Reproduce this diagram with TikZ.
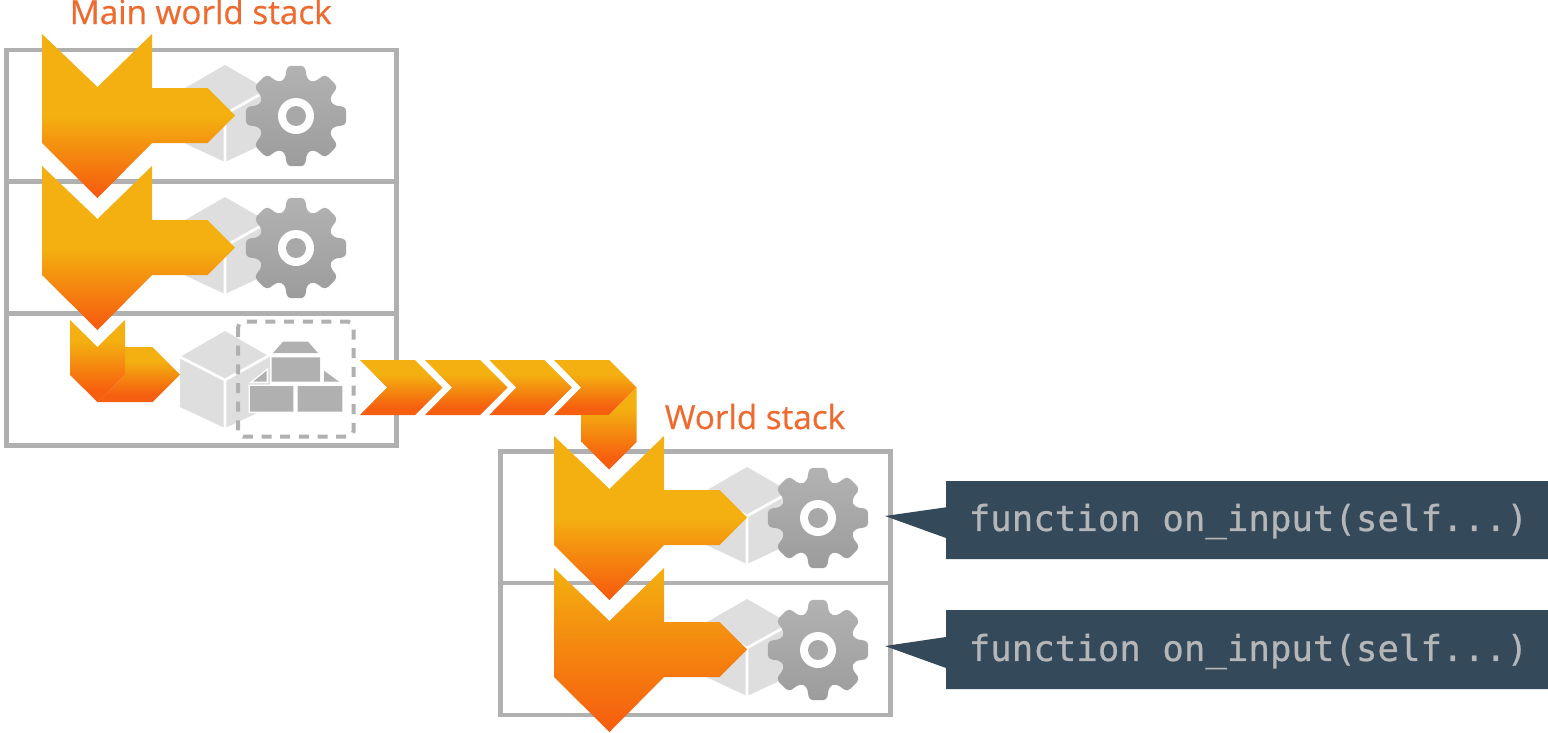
\documentclass[tikz,border=0pt]{standalone}
\usepackage{fontspec}
\setmainfont{Open Sans}
\newfontfamily\headfont[FakeBold=0.5]{Open Sans}
\newfontfamily\codefont[FakeBold=0.6]{DejaVu Sans Mono}
\definecolor{ay}{HTML}{F3B010}
\definecolor{ao}{HTML}{F65F0F}
\definecolor{boxgray}{HTML}{B0B0B0}
\definecolor{cubegray}{HTML}{DEDEDE}
\definecolor{navy}{HTML}{34495A}
\definecolor{labelor}{HTML}{EE6A2F}
\definecolor{codegray}{HTML}{B4B6B8}
\definecolor{geartop}{HTML}{B2B2B2}
\definecolor{gearbot}{HTML}{9C9C9C}
\definecolor{gearmid}{HTML}{A8A8A8}
\pgfdeclareverticalshading{bigarrow}{100bp}{color(0bp)=(ao);color(27bp)=(ao);color(50bp)=(ay);color(100bp)=(ay)}
\pgfdeclareverticalshading{fullarrow}{100bp}{color(0bp)=(ao);color(27bp)=(ao);color(75bp)=(ay);color(100bp)=(ay)}
\pgfdeclareverticalshading{chev}{100bp}{color(0bp)=(ao);color(32bp)=(ao);color(62bp)=(ay);color(100bp)=(ay)}
\pgfdeclareverticalshading{geargrad}{100bp}{color(0bp)=(gearbot);color(25bp)=(gearbot);color(75bp)=(geartop);color(100bp)=(geartop)}
\tikzset{
  x=0.75pt,y=-0.75pt,
  boxline/.style={draw=boxgray,line width=3.7pt,fill=none},
  heading/.style={text=labelor,font=\headfont\fontsize{24.9}{28}\selectfont,inner sep=0pt,anchor=base west},
  codetext/.style={text=codegray,font=\codefont\fontsize{26.8}{30}\selectfont,inner sep=0pt,anchor=west},
  callout/.style={fill=navy},
  brick/.style={fill=boxgray},
  bigarr/.pic={\shade[shading=#1,draw=none]
    (42,34)--(97.5,87)--(152,34)--(152,88)--(207.5,88)--(235,115.5)--(207.5,143)--(152,143)--(97.5,198)--(42,143)--cycle;},
  pics/bigarr/.default=bigarrow,
  chevron/.pic={\shade[shading=chev]
    (0,0)--(55,0)--(82.5,27.5)--(55,55)--(0,55)--(27,27.5)--cycle;},
  cube/.pic={
    \fill[cubegray] (225,331)--(270,357)--(270,407)--(225,428)--(180,407)--(180,357)--cycle;
    \draw[white,line width=2pt,line cap=butt] (180,357)--(225,380)--(270,355) (225,380)--(225,430);},
  gear/.pic={
    \shade[shading=geargrad] \gearpath;
    \fill[white] (0,0) circle (18);
    \fill[gearmid] (0,0) circle (10);},
}
\newcommand{\gearpath}{[rounded corners=3pt]
  (73:38) -- (80:51) -- (100:51) -- (107:38)
  -- (118:38) -- (125:51) -- (145:51) -- (152:38)
  -- (163:38) -- (170:51) -- (190:51) -- (197:38)
  -- (208:38) -- (215:51) -- (235:51) -- (242:38)
  -- (253:38) -- (260:51) -- (280:51) -- (287:38)
  -- (298:38) -- (305:51) -- (325:51) -- (332:38)
  -- (343:38) -- (350:51) -- (10:51) -- (17:38)
  -- (28:38) -- (35:51) -- (55:51) -- (62:38) -- cycle}
\begin{document}
\begin{tikzpicture}
\useasboundingbox (0,0) rectangle (1548,732);
\fill[white] (0,0) rectangle (1548,732);
% stacks
\draw[boxline] (6.3,50) rectangle (396.8,445.5);
\draw[boxline] (6.3,181.5)--(396.8,181.5) (6.3,313.5)--(396.8,313.5);
\draw[boxline] (500.5,451.5) rectangle (890.5,715);
\draw[boxline] (500.5,583)--(890.5,583);
% cubes and gears
\pic at (0,-266) {cube};
\pic at (0,-134) {cube};
\pic at (0,0) {cube};
\pic at (522,136) {cube};
\pic at (522,268) {cube};
\pic at (296,116) {gear};
\pic at (296,248) {gear};
\pic at (818,518) {gear};
\pic at (818,650) {gear};
% wall
\draw[white,line width=2.2pt] (273,353)--(318,353)--(308,341.7)--(283,341.7)--cycle
  (271.7,357.3) rectangle (320,381.7)
  (250,386) rectangle (293.3,411.7)
  (297.7,386) rectangle (342.3,411.7)
  (253,381.7)--(266.7,381.7)--(266.7,370.7)--cycle
  (324,370.7)--(324,381.7)--(339,381.7)--cycle;
\fill[brick] (273,353)--(318,353)--(308,341.7)--(283,341.7)--cycle
  (271.7,357.3) rectangle (320,381.7)
  (250,386) rectangle (293.3,411.7)
  (297.7,386) rectangle (342.3,411.7)
  (253,381.7)--(266.7,381.7)--(266.7,370.7)--cycle
  (324,370.7)--(324,381.7)--(339,381.7)--cycle;
\draw[boxgray,line width=3pt,rounded corners=4pt,dash pattern=on 7.5pt off 6.5pt] (238,321.7) rectangle (353.5,436.7);
% arrows
\pic at (0,132) {bigarr};
\pic at (0,0) {bigarr};
\pic at (512,534) {bigarr=fullarrow};
\pic at (512,402) {bigarr};
% small arrows row 3
\shade[shading=chev] (125,347)--(152.5,347)--(180,374.5)--(152.5,402)--(97.5,402)--(125,375)--cycle;
\shade[shading=chev] (70,320)--(97.5,347)--(125,320)--(125,375)--(97.5,402)--(70,375)--cycle;
% chevrons
\pic at (360,360) {chevron};
\pic at (425,360) {chevron};
\pic at (489.3,360) {chevron};
\pic at (554,360) {chevron};
\shade[shading=chev] (636.5,387.5)--(636.5,442)--(609,469.5)--(581.5,442)--(581.5,415)--(609,415)--cycle;
% callouts
\fill[callout] (946,481)--(1548,481)--(1548,559)--(946,559)--(946,538)--(885,516)--(946,507.3)--cycle;
\fill[callout] (946,610)--(1548,610)--(1548,689)--(946,689)--(946,668)--(885,646)--(946,637)--cycle;
\node[codetext] (code1) at (968.5,521.5) {function on\_input(self...)};
\node[codetext] (code2) at (968.5,651.5) {function on\_input(self...)};
% labels
\node[heading] (mainlabel) at (69.5,24) {Main world stack};
\node[heading] (worldlabel) at (664.5,429) {World stack};
\end{tikzpicture}
\end{document}
